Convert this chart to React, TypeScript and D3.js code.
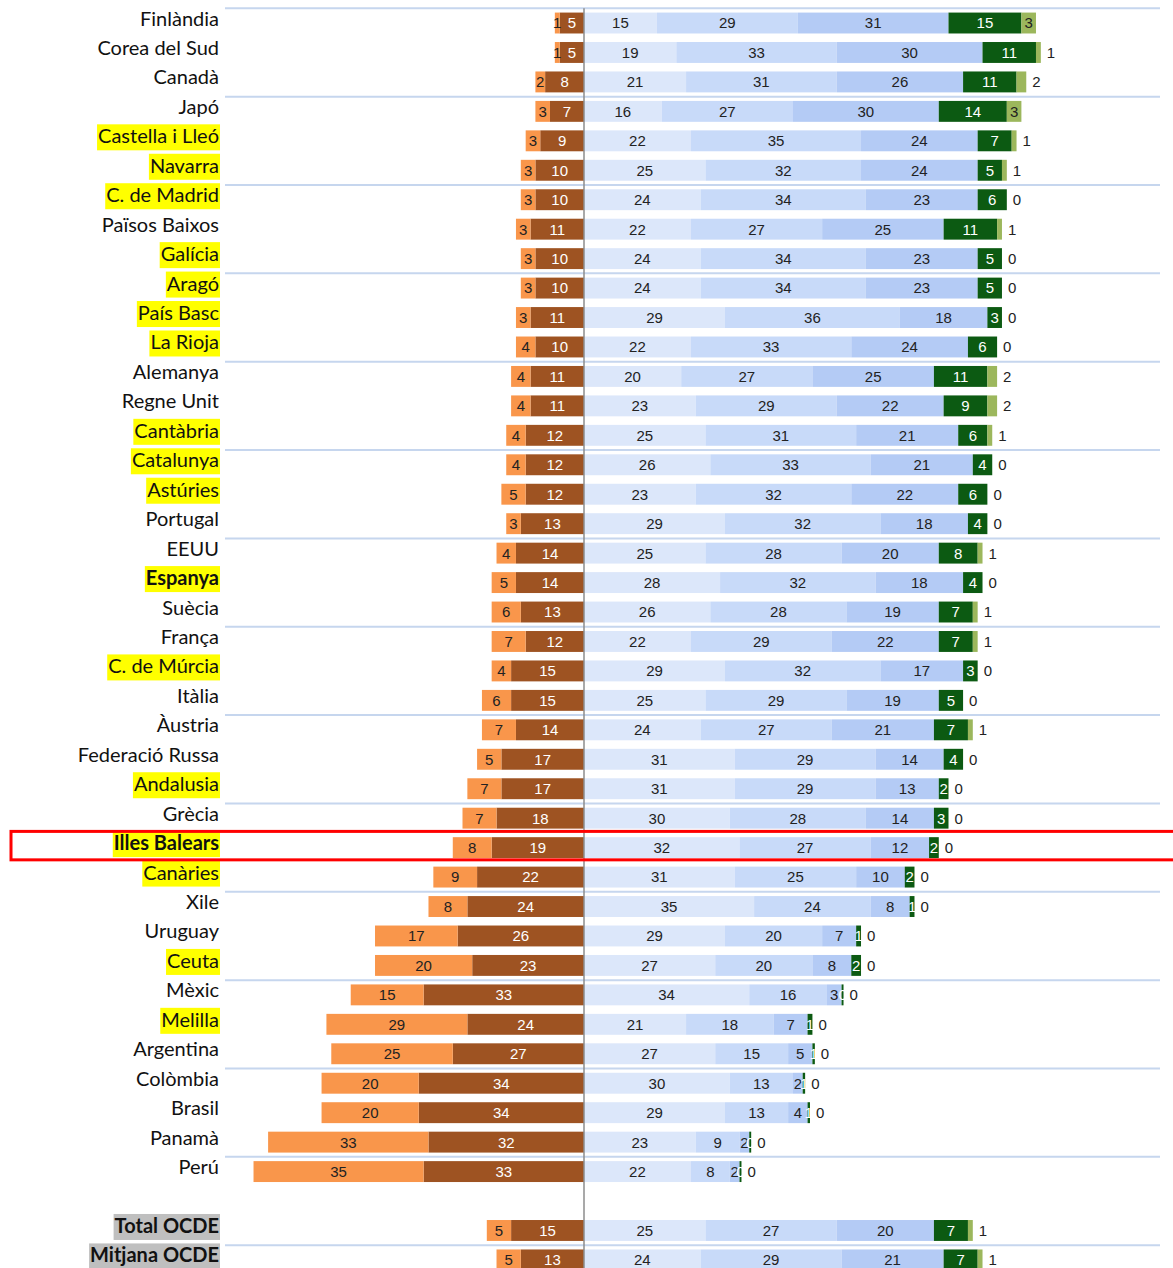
import React from "react";
import * as d3 from "d3";

// Row labels (top to bottom); empty string = blank row
const countries = [
  "Finlàndia", "Corea del Sud", "Canadà", "Japó", "Castella i Lleó", "Navarra",
  "C. de Madrid", "Països Baixos", "Galícia", "Aragó", "País Basc", "La Rioja",
  "Alemanya", "Regne Unit", "Cantàbria", "Catalunya", "Astúries", "Portugal",
  "EEUU", "Espanya", "Suècia", "França", "C. de Múrcia", "Itàlia", "Àustria",
  "Federació Russa", "Andalusia", "Grècia", "Illes Balears", "Canàries", "Xile",
  "Uruguay", "Ceuta", "Mèxic", "Melilla", "Argentina", "Colòmbia", "Brasil",
  "Panamà", "Perú", "", "Total OCDE", "Mitjana OCDE",
];

// Spanish regions (yellow highlight)
const spanish = [
  "Castella i Lleó", "Navarra", "C. de Madrid", "Galícia", "Aragó", "País Basc",
  "La Rioja", "Cantàbria", "Catalunya", "Astúries", "Espanya", "C. de Múrcia",
  "Andalusia", "Illes Balears", "Canàries", "Ceuta", "Melilla",
];
const boldLabels = ["Espanya", "Illes Balears", "Total OCDE", "Mitjana OCDE"];
const greyLabels = ["Total OCDE", "Mitjana OCDE"];
const framedLabel = "Illes Balears";

// Percent of students per proficiency level
const belowLevel1 = [1, 1, 2, 3, 3, 3, 3, 3, 3, 3, 3, 4, 4, 4, 4, 4, 5, 3, 4, 5, 6, 7, 4, 6, 7, 5, 7, 7, 8, 9, 8, 17, 20, 15, 29, 25, 20, 20, 33, 35, null, 5, 5];
const level1 = [5, 5, 8, 7, 9, 10, 10, 11, 10, 10, 11, 10, 11, 11, 12, 12, 12, 13, 14, 14, 13, 12, 15, 15, 14, 17, 17, 18, 19, 22, 24, 26, 23, 33, 24, 27, 34, 34, 32, 33, null, 15, 13];
const level2 = [15, 19, 21, 16, 22, 25, 24, 22, 24, 24, 29, 22, 20, 23, 25, 26, 23, 29, 25, 28, 26, 22, 29, 25, 24, 31, 31, 30, 32, 31, 35, 29, 27, 34, 21, 27, 30, 29, 23, 22, null, 25, 24];
const level3 = [29, 33, 31, 27, 35, 32, 34, 27, 34, 34, 36, 33, 27, 29, 31, 33, 32, 32, 28, 32, 28, 29, 32, 29, 27, 29, 29, 28, 27, 25, 24, 20, 20, 16, 18, 15, 13, 13, 9, 8, null, 27, 29];
const level4 = [31, 30, 26, 30, 24, 24, 23, 25, 23, 23, 18, 24, 25, 22, 21, 21, 22, 18, 20, 18, 19, 22, 17, 19, 21, 14, 13, 14, 12, 10, 8, 7, 8, 3, 7, 5, 2, 4, 2, 2, null, 20, 21];
const level5 = [15, 11, 11, 14, 7, 5, 6, 11, 5, 5, 3, 6, 11, 9, 6, 4, 6, 4, 8, 4, 7, 7, 3, 5, 7, 4, 2, 3, 2, 2, 1, 1, 2, 0.4, 1, 0.5, 0.5, 0.5, 0.4, 0.4, null, 7, 7];
const level6 = [3, 1, 2, 3, 1, 1, 0, 1, 0, 0, 0, 0, 2, 2, 1, 0, 0, 0, 1, 0, 1, 1, 0, 0, 1, 0, 0, 0, 0, 0, 0, 0, 0, 0, 0, 0, 0, 0, 0, 0, null, 1, 1];

const leftSeries = [
  { key: "below1", values: belowLevel1, fill: "#F9964B", text: "#222" },
  { key: "l1", values: level1, fill: "#9E5322", text: "#fff" },
];
const rightSeries = [
  { key: "l2", values: level2, fill: "#DCE7FA", text: "#222" },
  { key: "l3", values: level3, fill: "#C8DAF9", text: "#222" },
  { key: "l4", values: level4, fill: "#B4CBF5", text: "#222" },
  { key: "l5", values: level5, fill: "#0C5A12", text: "#fff" },
  { key: "l6", values: level6, fill: "#9CB75C", text: "#222" },
];

const W = 1173;
const H = 1268;
const labelFont = "Lato, 'Open Sans', sans-serif";
const valFont = "'Liberation Sans', Arial, sans-serif";

export default function App() {
  const zeroX = 584;
  const x = d3.scaleLinear().domain([0, 100]).range([zeroX, zeroX + 486]);
  const rowKeys = countries.map((c, i) => String(i));
  const pitch = 29.45;
  const top = 8.3;
  const y = d3
    .scaleBand<string>()
    .domain(rowKeys)
    .range([top, top + pitch * countries.length])
    .paddingInner(0.29)
    .paddingOuter(0.145);
  const bw = y.bandwidth();

  const rows: React.ReactNode[] = [];
  countries.forEach((c, i) => {
    if (!c) return;
    const y0 = y(String(i)) as number;
    const cy = y0 + bw / 2;
    let acc = 0;
    leftSeries
      .slice()
      .reverse()
      .forEach((s) => {
        const v = s.values[i] as number;
        const x1 = x(-acc);
        acc += v;
        const x0 = x(-acc);
        rows.push(
          <rect key={`${s.key}-${i}`} x={x0} y={y0} width={x1 - x0} height={bw} fill={s.fill} />
        );
        rows.push(
          <text key={`${s.key}-t-${i}`} x={(x0 + x1) / 2} y={cy} dy="0.36em" textAnchor="middle"
            fontFamily={valFont} fontSize={15} fill={s.text}>
            {Math.round(v)}
          </text>
        );
      });
    acc = 0;
    rightSeries.forEach((s) => {
      const v = s.values[i] as number;
      const x0 = x(acc);
      acc += v;
      const x1 = x(acc);
      if (v > 0)
        rows.push(
          <rect key={`${s.key}-${i}`} x={x0} y={y0} width={x1 - x0} height={bw} fill={s.fill} />
        );
      const outside = s.key === "l6" && v < 3;
      rows.push(
        <text key={`${s.key}-t-${i}`} x={outside ? x1 + 6 : (x0 + x1) / 2} y={cy} dy="0.36em"
          textAnchor={outside ? "start" : "middle"}
          fontFamily={valFont} fontSize={15} fill={outside ? "#222" : s.text}>
          {Math.round(v)}
        </text>
      );
    });
  });

  const labels: React.ReactNode[] = [];
  countries.forEach((c, i) => {
    if (!c) return;
    const y0 = y(String(i)) as number;
    const cy = y0 + bw / 2;
    const bold = boldLabels.includes(c);
    const bg = greyLabels.includes(c) ? "#BFBFBF" : spanish.includes(c) ? "#FFFF00" : null;
    labels.push(<Label key={`lab-${i}`} text={c} bold={bold} right={219} baseline={cy + 2.5} bg={bg} />);
  });

  const seps = d3.range(0, 43, 3);
  const sepLines = seps.map((k) => {
    const yy = top + k * pitch;
    return <line key={`sep-${k}`} x1={225} x2={1160} y1={yy} y2={yy} stroke="#C6D6EE" strokeWidth={2} />;
  });

  const fi = countries.indexOf(framedLabel);
  const fy = top + fi * pitch;

  return (
    <svg width={W} height={H} style={{ position: "absolute", left: 0, top: 0, background: "#fff" }}>
      <rect width={W} height={H} fill="#fff" />
      {sepLines}
      {rows}
      <line x1={zeroX} x2={zeroX} y1={top} y2={H} stroke="#8C8C8C" strokeWidth={1.5} />
      {labels}
      <rect x={11} y={fy - 1.5} width={W + 20} height={pitch - 1} fill="none" stroke="#FF0000" strokeWidth={3} />
    </svg>
  );
}

function Label({ text, bold, right, baseline, bg }: { text: string; bold: boolean; right: number; baseline: number; bg: string | null }) {
  const ref = React.useRef<SVGTextElement>(null);
  const [w, setW] = React.useState(0);
  React.useLayoutEffect(() => {
    if (ref.current && bg) setW(ref.current.getComputedTextLength());
  }, [text, bg]);
  return (
    <g>
      {bg && w > 0 && <rect x={right - w - 1} y={baseline - 19} width={w + 2} height={26} fill={bg} />}
      <text ref={ref} x={right} y={baseline} textAnchor="end" fontFamily={labelFont} fontSize={20}
        fontWeight={bold ? 700 : 400} fill="#111">
        {text}
      </text>
    </g>
  );
}
